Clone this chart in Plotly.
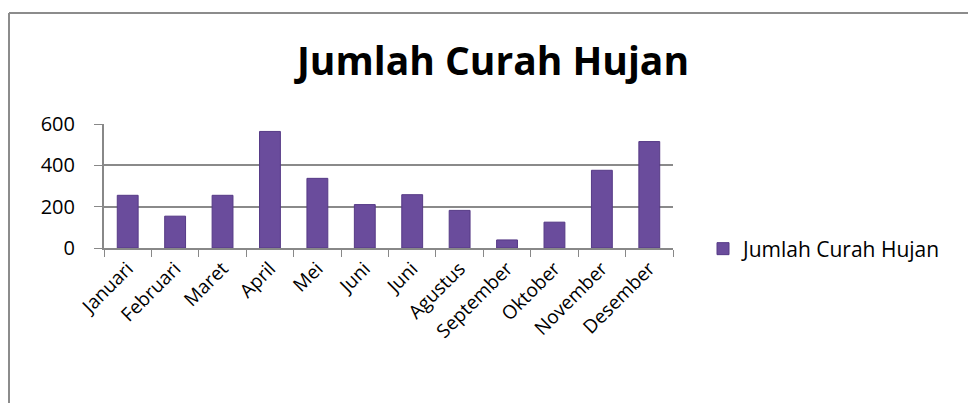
import plotly.graph_objects as go

months = ["Januari", "Februari", "Maret", "April", "Mei", "Juni", "Juni ",
          "Agustus", "September", "Oktober", "November", "Desember"]
tick_text = ["Januari", "Februari", "Maret", "April", "Mei", "Juni", "Juni",
             "Agustus", "September", "Oktober", "November", "Desember"]
values = [255, 154, 255, 564, 337, 210, 258, 182, 39, 125, 376, 515]
y_ticks = [0, 200, 400, 600]
series_name = "Jumlah Curah Hujan"
title_text = "Jumlah Curah Hujan"

W, H = 976, 403
# figure is placed 8px in from the page's corner (browser body margin)
OFF = 8
L, R = 104 - OFF, 673 - OFF
T, B = 124 - OFF, 248 - OFF


def px_x(p):
    return (p - OFF - L) / (R - L)


def px_y(p):
    return (B - (p - OFF)) / (B - T)


fig = go.Figure()
fig.add_trace(go.Bar(
    x=months, y=values, name=series_name,
    marker=dict(color="#6A4C9C", line=dict(color="#563A86", width=1)),
    showlegend=True,
))

font_family = "Open Sans, Liberation Sans, sans-serif"

fig.update_layout(
    width=W, height=H,
    margin=dict(l=L, r=W - R, t=T, b=H - B, pad=0),
    paper_bgcolor="white", plot_bgcolor="white",
    bargap=0.56,
    font=dict(family=font_family, size=19, color="#000000"),
    title=dict(text="<b>" + title_text + "</b>", x=px_x(493), xanchor="center",
               xref="paper", y=1 - (61 - OFF) / H, yanchor="middle", yref="container",
               font=dict(size=39, family=font_family, color="#000000")),
    xaxis=dict(
        tickmode="array", tickvals=months, ticktext=tick_text,
        tickangle=-45, ticks="outside", ticklen=7, tickcolor="#888888",
        tickson="boundaries", showline=True, linecolor="#888888", linewidth=2,
        showgrid=False, tickfont=dict(size=19), zeroline=False,
    ),
    yaxis=dict(
        range=[0, 600], tickvals=y_ticks, ticks="outside", ticklen=8,
        tickcolor="#888888", showline=True, linecolor="#888888", linewidth=2,
        showgrid=True, gridcolor="#8a8a8a", gridwidth=1.5, zeroline=False,
        tickfont=dict(size=20), ticklabelstandoff=15,
    ),
    legend=dict(x=px_x(722 - 19), xanchor="left", y=px_y(249), yanchor="middle",
                font=dict(size=21), itemwidth=30, bgcolor="rgba(0,0,0,0)"),
    shapes=[
        dict(type="line", xref="paper", yref="paper",
             x0=px_x(9), x1=px_x(1000), y0=px_y(13), y1=px_y(13),
             line=dict(color="#8c8c8c", width=2)),
        dict(type="line", xref="paper", yref="paper",
             x0=px_x(9), x1=px_x(9), y0=px_y(13), y1=px_y(430),
             line=dict(color="#8c8c8c", width=2)),
    ],
)

fig.write_html("out.html")
